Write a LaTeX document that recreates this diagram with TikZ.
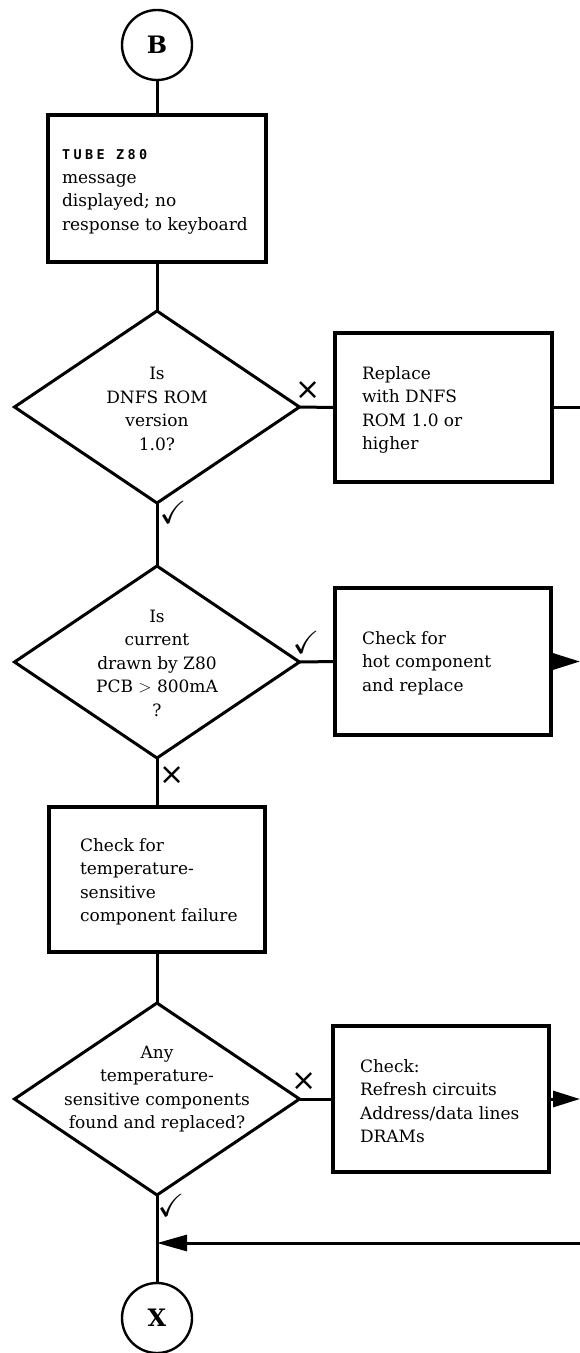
\documentclass[tikz,border=0pt]{standalone}
\usepackage{amssymb}
\usepackage{fontspec}
\setmainfont{DejaVu Serif}
\newfontfamily\tubefont[LetterSpace=25]{DejaVu Sans Mono}
\newfontfamily\markfont{DejaVu Sans}
\usetikzlibrary{shapes.geometric,arrows.meta}
\begin{document}
\begin{tikzpicture}[x=1pt,y=-1pt,
  line width=3pt,
  every node/.style={inner sep=0pt, outer sep=0pt},
  conn/.style={circle, draw, line width=2.4pt, minimum size=70pt, font=\fontsize{24}{24}\selectfont\bfseries},
  boxnode/.style={draw, line width=3.8pt},
  dia/.style={diamond, draw, line width=3pt, minimum width=285pt, minimum height=192pt, aspect=1.5},
  txt/.style={font=\fontsize{17}{23.5}\selectfont, align=left, anchor=west},
  ctxt/.style={font=\fontsize{17}{23.5}\selectfont, align=center},
  xmark/.style={font=\markfont\fontsize{30}{30}\selectfont},
  tick/.style={font=\fontsize{32}{32}\selectfont},
  arr/.style={-{Triangle[length=27pt,width=16pt]}}
]
\useasboundingbox (0,0) rectangle (580,1353);

% connectors (circles)
\node[conn] (cB) at (157,45) {B};
\node[conn] (cX) at (157,1318) {X};

% boxes
\node[boxnode, minimum width=218pt, minimum height=147pt] (b1) at (157,188.5) {};
\node[txt] (t1) at (62,192) {{\tubefont\bfseries\fontsize{13.5}{23.5}\selectfont TUBE Z80}\\message\\displayed; no\\response to keyboard};

\node[boxnode, minimum width=217pt, minimum height=149pt] (rep) at (443.5,407.5) {};
\node[txt] (t2) at (362,410) {Replace\\with DNFS\\ROM 1.0 or\\higher};

\node[boxnode, minimum width=216pt, minimum height=147pt] (hot) at (443,661.5) {};
\node[txt] (t3) at (362,663) {Check for\\hot component\\and replace};

\node[boxnode, minimum width=216pt, minimum height=145pt] (b3) at (157,879.5) {};
\node[txt] (t4) at (80,882) {Check for\\temperature-\\sensitive\\component failure};

\node[boxnode, minimum width=216pt, minimum height=146pt] (b4) at (441,1099) {};
\node[txt] (t5) at (360,1101) {Check:\\Refresh circuits\\Address/data lines\\DRAMs};

% decisions
\node[dia] (d1) at (157,407) {};
\node[ctxt] (q1) at (157,409) {Is\\DNFS ROM\\version\\1.0?};

\node[dia] (d2) at (157,662) {};
\node[ctxt] (q2) at (157,663) {Is\\current\\drawn by Z80\\PCB $>$ 800mA\\?};

\node[dia] (d3) at (157,1099) {};
\node[ctxt] (q3) at (157,1089) {Any\\temperature-\\sensitive components\\found and replaced?};

% free ends
\coordinate (e1) at (580,407.5);
\coordinate (e2) at (580,661.5);
\coordinate (e3) at (580,1099);
\coordinate (e4) at (580,1243);
\coordinate (j) at (157,1243);

% lines
\draw (cB.south) -- (b1.north);
\draw (b1.south) -- (d1.north);
\draw (d1.east) -- (rep.west);
\draw (rep.east) -- (e1);
\draw (d1.south) -- (d2.north);
\draw (d2.east) -- (hot.west);
\draw[arr] (hot.east) -- (e2);
\draw (d2.south) -- (b3.north);
\draw (b3.south) -- (d3.north);
\draw (d3.east) -- (b4.west);
\draw[arr] (b4.east) -- (e3);
\draw (d3.south) -- (cX.north);
\draw[-{Triangle[length=30pt,width=16pt]}] (e4) -- (j);

% yes/no marks
\node[xmark] (m1) at (308,391) {×};
\node[tick] (m2) at (173,512) {\checkmark};
\node[tick] (m3) at (306,642) {\checkmark};
\node[xmark] (m4) at (172,776) {×};
\node[xmark] (m5) at (304,1082) {×};
\node[tick] (m6) at (171,1205) {\checkmark};
\end{tikzpicture}
\end{document}
